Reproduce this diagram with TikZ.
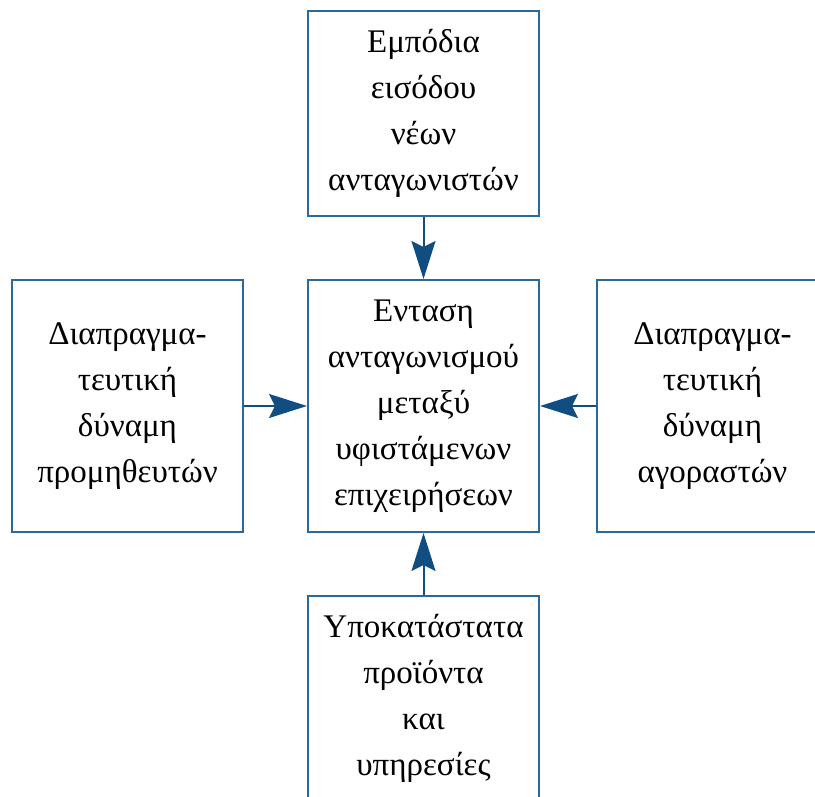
\documentclass[tikz,border=0pt]{standalone}
\usepackage{fontspec}
\setmainfont{Liberation Serif}
\usetikzlibrary{arrows.meta}
\usetikzlibrary{positioning}
\definecolor{boxblue}{RGB}{44,104,152}
\definecolor{arrowblue}{RGB}{16,78,130}
\tikzset{>={Stealth[length=19pt,width=12pt,inset=3pt]}}
\tikzset{force/.style={draw=boxblue,line width=1pt,align=center,minimum width=115.5pt,inner sep=0pt,font=\fontsize{16.5pt}{23pt}\selectfont}}

\begin{document}
\begin{tikzpicture}
\useasboundingbox (0,0) rectangle (407.5pt,-398.5pt);

% centre box
\node[force,minimum height=126pt] (rivalry) at (211.75pt,-203pt) {Ενταση\\ανταγωνισμού\\μεταξύ\\υφιστάμενων\\επιχειρήσεων};

% the four forces round it
\node[force,minimum height=102.5pt,above=31pt of rivalry] (entrants) {Εμπόδια\\εισόδου\\νέων\\ανταγωνιστών};
\node[force,minimum height=126pt,left=31.5pt of rivalry] (suppliers) {Διαπραγμα-\\τευτική\\δύναμη\\προμηθευτών};
\node[force,minimum height=126pt,right=28pt of rivalry] (buyers) {Διαπραγμα-\\τευτική\\δύναμη\\αγοραστών};
\node[force,minimum height=102.5pt,below=31pt of rivalry] (substitutes) {Υποκατάστατα\\προϊόντα\\και\\υπηρεσίες};

\draw[->,arrowblue,line width=1pt] (entrants) -- (rivalry);
\draw[->,arrowblue,line width=1pt] (suppliers) -- (rivalry);
\draw[->,arrowblue,line width=1pt] (buyers) -- (rivalry);
\draw[->,arrowblue,line width=1pt] (substitutes) -- (rivalry);

\end{tikzpicture}
\end{document}
